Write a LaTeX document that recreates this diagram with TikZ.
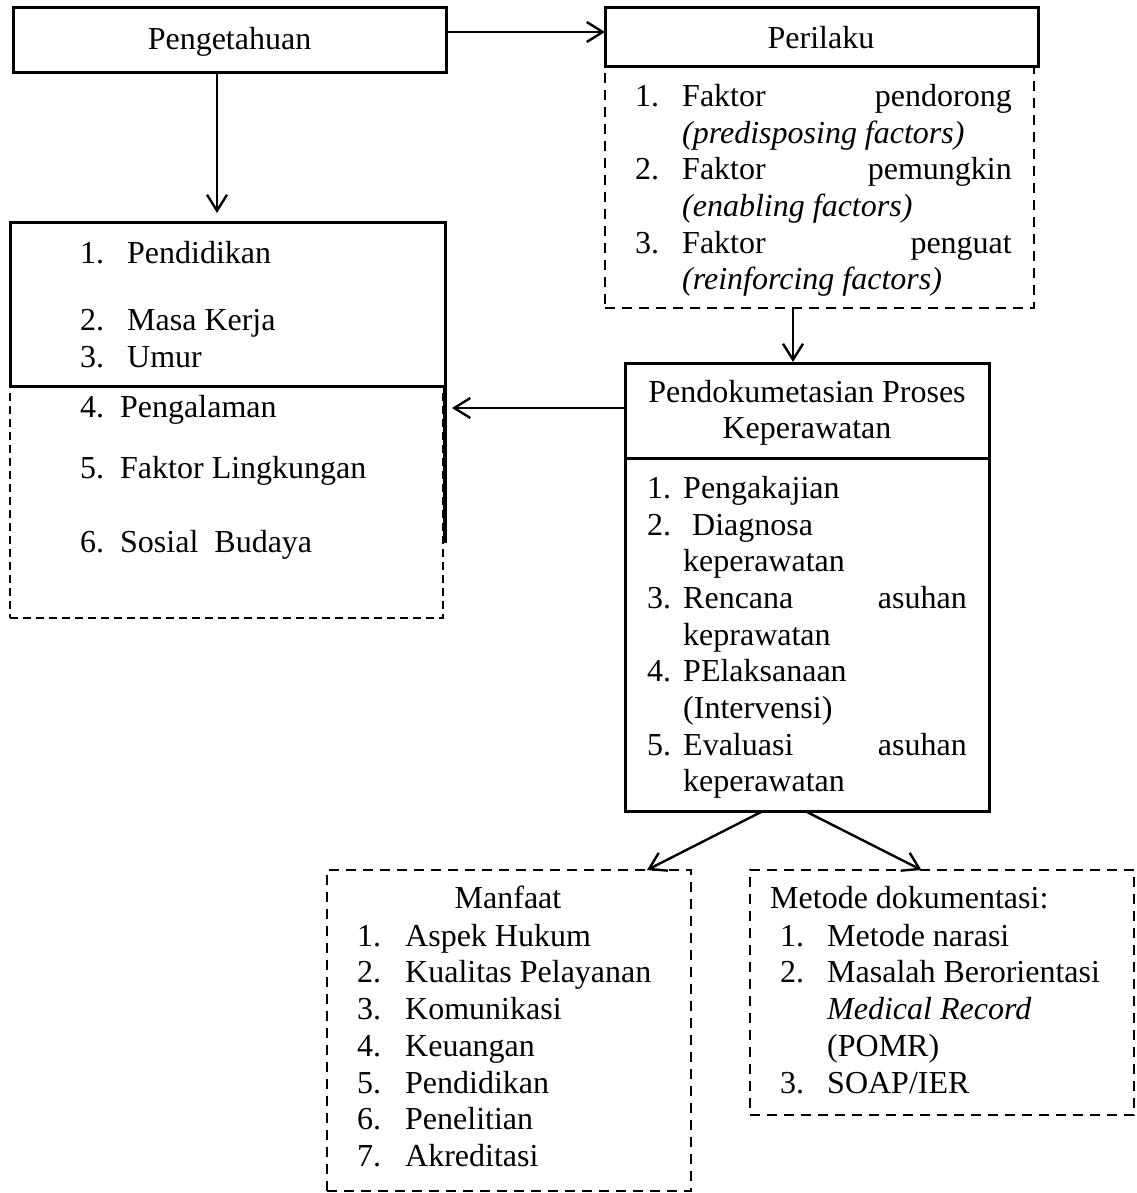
\documentclass[tikz,border=0pt]{standalone}
\usepackage{fontspec}
\setmainfont{Liberation Serif}
\usetikzlibrary{arrows.meta}
\begin{document}
\begin{tikzpicture}[x=1pt,y=-1pt,
  font=\fontsize{32}{36.7}\selectfont,
  solidbox/.style={draw, line width=3pt, rectangle, inner sep=0pt, outer sep=0pt},
  dashbox/.style={draw, line width=2.6pt, dash pattern=on 10pt off 7pt, rectangle, inner sep=0pt, outer sep=0pt},
  thindash/.style={draw, line width=2pt, dash pattern=on 8pt off 5pt, rectangle, inner sep=0pt, outer sep=0pt},
  txt/.style={anchor=base west, inner sep=0pt},
  txtr/.style={anchor=base east, inner sep=0pt},
  txtc/.style={anchor=base, inner sep=0pt},
  arr/.style={line width=2.4pt, -{Straight Barb[length=16pt,width=20pt,line width=2.4pt]}},
]
\useasboundingbox (0,0) rectangle (1136,1193);

% ---- Pengetahuan
\node[solidbox, minimum width=433pt, minimum height=65pt, anchor=north west] (peng) at (13,8) {};
\node[txtc] (pengt) at (229.5,50) {Pengetahuan};

% ---- Perilaku
\node[dashbox, minimum width=429pt, minimum height=241pt, anchor=north west] (perf) at (605,67) {};
\node[solidbox, minimum width=433pt, minimum height=59pt, anchor=north west] (per) at (605,8) {};
\node[txtc] (pert) at (821,49) {Perilaku};

\node[txt] (pf1n) at (635,107) {1.};
\node[txt] (pf1a) at (682,107) {Faktor};
\node[txtr] (pf1b) at (1012,107) {pendorong};
\node[txt] (pf1c) at (682,143.5) {\itshape (predisposing factors)};
\node[txt] (pf2n) at (635,180) {2.};
\node[txt] (pf2a) at (682,180) {Faktor};
\node[txtr] (pf2b) at (1012,180) {pemungkin};
\node[txt] (pf2c) at (682,216.5) {\itshape (enabling factors)};
\node[txt] (pf3n) at (635,253) {3.};
\node[txt] (pf3a) at (682,253) {Faktor};
\node[txtr] (pf3b) at (1012,253) {penguat};
\node[txt] (pf3c) at (682,289.5) {\itshape (reinforcing factors)};

% ---- Left box
\node[thindash, minimum width=433pt, minimum height=232pt, anchor=north west] (lbd) at (10,386) {};
\node[solidbox, minimum width=435pt, minimum height=164pt, anchor=north west] (lb) at (10,222) {};
\draw[line width=3.2pt] (lb.south east) -- ++(0,157) coordinate (lbend);

\node[txt] (l1n) at (80,263) {1.};
\node[txt] (l1t) at (127,263) {Pendidikan};
\node[txt] (l2n) at (80,330) {2.};
\node[txt] (l2t) at (127,330) {Masa Kerja};
\node[txt] (l3n) at (80,367) {3.};
\node[txt] (l3t) at (127,367) {Umur};
\node[txt] (l4n) at (80,417) {4.};
\node[txt] (l4t) at (120,417) {Pengalaman};
\node[txt] (l5n) at (80,478) {5.};
\node[txt] (l5t) at (120,478) {Faktor Lingkungan};
\node[txt] (l6n) at (80,552) {6.};
\node[txt] (l6t) at (120,552) {Sosial\hspace{0.5em}Budaya};

% ---- Pendokumetasian
\node[solidbox, minimum width=364pt, minimum height=448pt, anchor=north west] (pdk) at (625,363) {};
\draw[line width=3pt] ([yshift=-95pt]pdk.north west) -- ([yshift=-95pt]pdk.north east);
\node[txtc] (pdt1) at (807,402) {Pendokumetasian Proses};
\node[txtc] (pdt2) at (807,438) {Keperawatan};

\node[txt] (pd1n) at (647,498) {1.};
\node[txt] (pd1t) at (683,498) {Pengakajian};
\node[txt] (pd2n) at (647,535) {2.};
\node[txt] (pd2t) at (692,535) {Diagnosa};
\node[txt] (pd2u) at (683,571) {keperawatan};
\node[txt] (pd3n) at (647,608) {3.};
\node[txt] (pd3t) at (683,608) {Rencana};
\node[txtr] (pd3r) at (967,608) {asuhan};
\node[txt] (pd3u) at (683,645) {keprawatan};
\node[txt] (pd4n) at (647,681) {4.};
\node[txt] (pd4t) at (683,681) {PElaksanaan};
\node[txt] (pd4u) at (683,718) {(Intervensi)};
\node[txt] (pd5n) at (647,755) {5.};
\node[txt] (pd5t) at (683,755) {Evaluasi};
\node[txtr] (pd5r) at (967,755) {asuhan};
\node[txt] (pd5u) at (683,791) {keperawatan};

% ---- Manfaat
\node[dashbox, minimum width=364pt, minimum height=321pt, anchor=north west] (mf) at (327,870) {};
\node[txtc] (mft) at (508,908) {Manfaat};
\foreach \i/\yy/\s in {1/946/Aspek Hukum, 2/982/Kualitas Pelayanan, 3/1019/Komunikasi, 4/1056/Keuangan, 5/1093/Pendidikan, 6/1129/Penelitian, 7/1166/Akreditasi}{
  \node[txt] (mfn\i) at (357,\yy) {\i.};
  \node[txt] (mfs\i) at (405,\yy) {\s};
}

% ---- Metode
\node[dashbox, minimum width=384pt, minimum height=245pt, anchor=north west] (md) at (750,870) {};
\node[txt] (mdt) at (770,908) {Metode dokumentasi:};
\node[txt] (md1n) at (780,946) {1.};
\node[txt] (md1t) at (827,946) {Metode narasi};
\node[txt] (md2n) at (780,982) {2.};
\node[txt] (md2t) at (827,982) {Masalah Berorientasi};
\node[txt] (md2u) at (827,1019) {\itshape Medical Record};
\node[txt] (md2v) at (827,1056) {(POMR)};
\node[txt] (md3n) at (780,1093) {3.};
\node[txt] (md3t) at (827,1093) {SOAP/IER};

% ---- Connectors
\draw[arr] ([yshift=8.5pt]peng.east) -- ([yshift=8.5pt]peng.east -| per.west);
\draw[arr, shorten >=9pt] ([xshift=-12.5pt]peng.south) -- ([xshift=-12.5pt]peng.south |- lb.north);
\draw[arr, shorten >=1pt] ([xshift=-26.5pt]perf.south) -- ([xshift=-26.5pt]perf.south |- pdk.north);
\draw[arr, shorten >=7pt] ([yshift=-45pt]pdk.north west) -- ([yshift=-45pt]pdk.north west -| lb.east);
\draw[arr] ([xshift=-44pt]pdk.south) -- ([xshift=138pt]mf.north);
\draw[arr] ([xshift=-2pt]pdk.south) -- ([xshift=-20.5pt]md.north);
\end{tikzpicture}
\end{document}
